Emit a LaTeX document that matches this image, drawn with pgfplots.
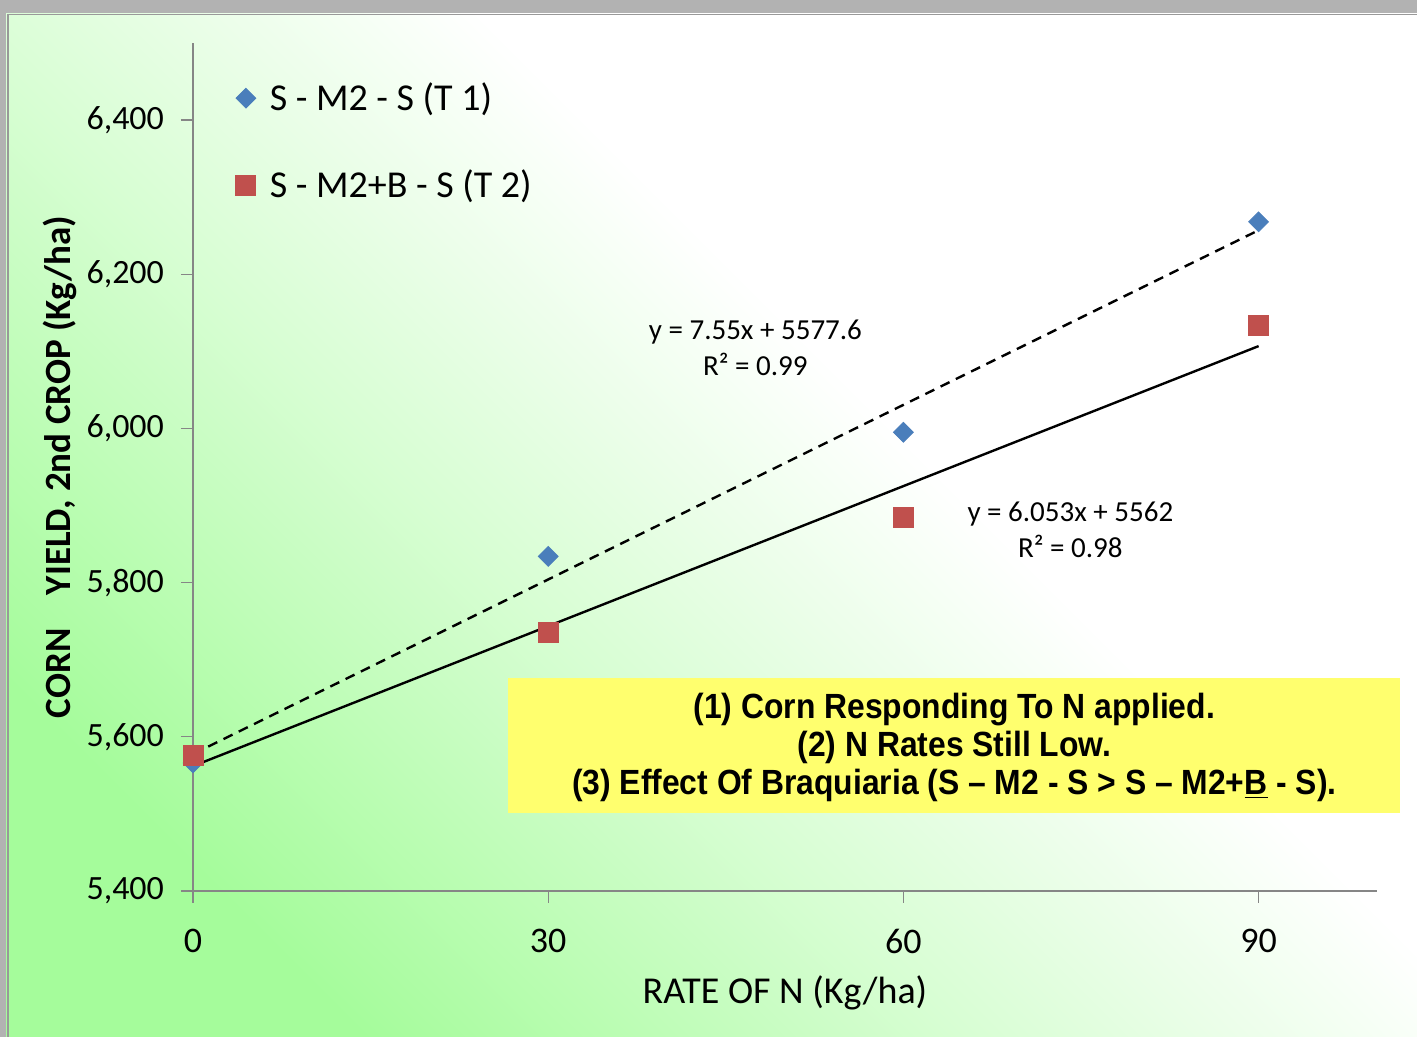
\documentclass[border=0pt]{standalone}
\usepackage{pgfplots}
\pgfplotsset{compat=1.18}
\usepackage{fontspec}
\setmainfont{Carlito}
\newfontfamily\narrowfont[FakeStretch=0.91]{Liberation Sans}
\definecolor{serA}{RGB}{74,126,187}
\definecolor{serB}{RGB}{192,80,77}
\definecolor{axgray}{RGB}{134,134,134}
\definecolor{boxyellow}{RGB}{255,255,110}
\definecolor{bggreen}{RGB}{165,252,155}
\pgfdeclarehorizontalshading{bgshade}{100bp}{color(0bp)=(bggreen); color(25bp)=(bggreen); color(42bp)=(bggreen!45!white); color(58bp)=(white); color(100bp)=(white)}
\begin{document}
\begin{tikzpicture}
\path[use as bounding box] (0,0) rectangle (708.5pt,518.5pt);
\shade[shading=bgshade, shading angle=45] (0,0) rectangle (708.5pt,518.5pt);
\fill[gray!60] (0,512pt) rectangle (708.5pt,518.5pt);
\fill[gray!60] (0,0) rectangle (3pt,518.5pt);
\draw[gray!80, line width=0.7pt] (4pt,0) -- (4pt,511.3pt) -- (708.5pt,511.3pt);
\begin{axis}[
  at={(96.5pt,73pt)}, anchor=south west,
  scale only axis, width=592pt, height=424pt,
  xmin=0, xmax=100, ymin=5400, ymax=6500,
  clip=false,
  axis lines=left,
  axis line style={axgray, line width=0.6pt, -},
  xtick={0,30,60,90},
  ytick={5400,5600,5800,6000,6200,6400},
  tick align=outside, major tick length=6pt,
  tick style={axgray, line width=0.6pt},
  scaled ticks=false,
  /pgf/number format/assume math mode=true,
  /pgf/number format/1000 sep={,},
  yticklabel style={font=\fontsize{17}{20}\selectfont, xshift=-5pt},
  xticklabel style={font=\fontsize{18}{20}\selectfont, yshift=-9.5pt},
  xlabel={RATE OF N (Kg/ha)},
  xlabel style={at={(axis description cs:0.5,-0.1203)}, anchor=center, font=\fontsize{19}{22}\selectfont},
  ylabel={CORN \ \ \ YIELD, 2nd CROP (Kg/ha)},
  ylabel style={at={(axis description cs:-0.1123,0.5)}, anchor=center, font=\bfseries\fontsize{18.5}{22}\selectfont},
  legend style={at={(axis description cs:0.0308,0.963)}, anchor=north west, draw=none, fill=none,
    font=\fontsize{19}{22}\selectfont, row sep=24pt, legend cell align=left},
  legend image code/.code={\path[draw=none,fill=none] (0.3cm,0cm) -- ++(10pt,0pt); \draw[#1] plot coordinates {(0.3cm,0cm)};},
]
\addplot[only marks, mark=square*, mark size=3.5pt, color=serA, mark options={rotate=45}]
  coordinates {(0,5566) (30,5834) (60,5995) (90,6268)};
\addlegendentry{S - M2 - S (T 1)}
\addplot[only marks, mark=square*, mark size=5pt, color=serB]
  coordinates {(0,5576) (30,5736) (60,5884) (90,6134)};
\addlegendentry{S - M2+B - S (T 2)}
\addplot[forget plot, black, line width=1.2pt, dash pattern=on 5pt off 3.5pt]
  coordinates {(0,5577.6) (90,6257.1)};
\addplot[forget plot, black, line width=1.2pt]
  coordinates {(0,5562) (90,6106.8)};
\node[font=\fontsize{14.5}{18}\selectfont, align=center] at (axis cs:47.5,6105) {y = 7.55x + 5577.6\\R² = 0.99};
\node[font=\fontsize{14.5}{18}\selectfont, align=center] at (axis cs:74.1,5869) {y = 6.053x + 5562\\R² = 0.98};
\node[fill=boxyellow, minimum width=446pt, minimum height=67.5pt, inner sep=0pt] at (axis cs:64.3,5588.7) {};
\node[align=center, inner sep=0pt, font=\narrowfont\bfseries\fontsize{17.5}{19}\selectfont]
  at (axis cs:64.3,5586.7)
  {(1) Corn Responding To N applied.\\(2) N Rates Still Low.\\(3) Effect Of Braquiaria (S – M2 - S > S – M2+\underline{B} - S).};
\end{axis}
\end{tikzpicture}
\end{document}
